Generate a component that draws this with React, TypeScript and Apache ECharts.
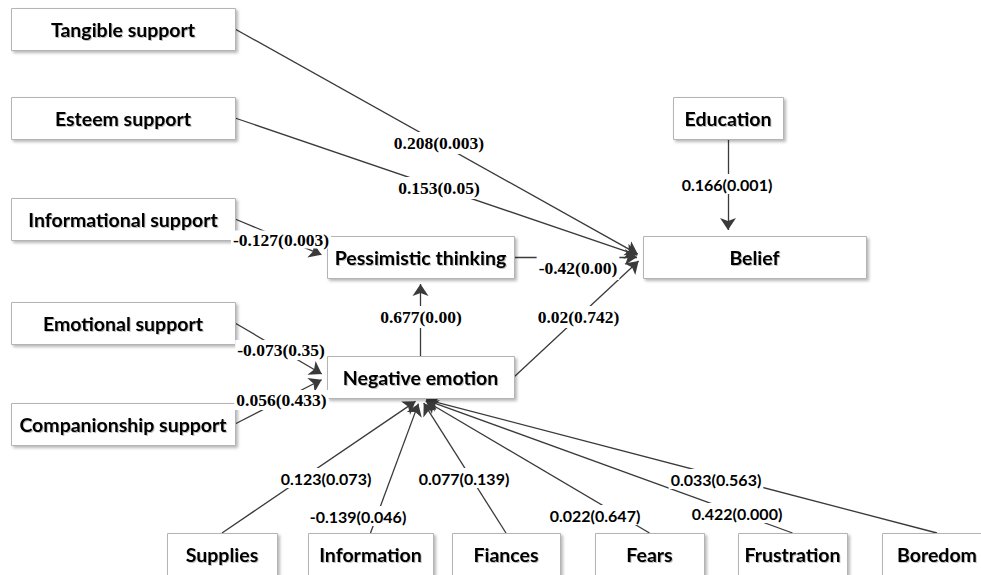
import React, { useEffect, useRef } from 'react';
import * as echarts from 'echarts';

// ---------- data ----------
const nodeNames = [
  'Tangible support', 'Esteem support', 'Informational support', 'Emotional support',
  'Companionship support', 'Pessimistic thinking', 'Negative emotion', 'Belief', 'Education',
  'Supplies', 'Information', 'Fiances', 'Fears', 'Frustration', 'Boredom',
];
const edgeFrom = [0, 1, 2, 3, 4, 5, 6, 6, 8, 9, 10, 11, 12, 13, 14];
const edgeTo = [7, 7, 5, 6, 6, 7, 5, 7, 7, 6, 6, 6, 6, 6, 6];
const pathCoef = ['0.208', '0.153', '-0.127', '-0.073', '0.056', '-0.42', '0.677', '0.02', '0.166',
  '0.123', '-0.139', '0.077', '0.022', '0.422', '0.033'];
const pathP = ['0.003', '0.05', '0.003', '0.35', '0.433', '0.00', '0.00', '0.742', '0.001',
  '0.073', '0.046', '0.139', '0.647', '0.000', '0.563'];

// ---------- layout (diagram space, px) ----------
const nodeCx = [123, 123, 123, 123, 123, 420.5, 420.5, 754.5, 728, 222, 370.5, 506, 649.5, 792.5, 937];
const nodeTop = [8, 97, 198, 302, 403, 236, 356, 236, 97, 533, 533, 533, 533, 533, 533];
const nodeW = [224, 224, 224, 224, 224, 187, 187, 223, 110, 110, 125, 108, 109, 109, 110];
const nodeH = [42, 42, 42, 42, 42, 42, 42, 42, 42, 50, 50, 50, 50, 50, 50];
const edgeFromSide = ['r', 'r', 'r', 'r', 'r', 'r', 't', 'r', 'b', 't', 't', 't', 't', 't', 't'];
const edgeToSide = ['l', 'l', 'l', 'l', 'l', 'l', 'b', 'l', 't', 'b', 'b', 'b', 'b', 'b', 'b'];
const labelX = [439, 439, 281, 281, 281.5, 578, 421, 578.5, 727, 326, 358, 464, 595, 737, 716];
const labelY = [143, 188, 239.5, 350, 400, 268, 317, 317, 184, 478, 516, 478, 515, 513, 479];
const labelPadV = [2, 2, 0, 1, 1, 3, 2, 2, 2, 2, 2, 2, 2, 2, 2];
const labelSerif = [1, 1, 1, 1, 1, 1, 1, 1, 0, 0, 0, 0, 0, 0, 0];

const W = 981;
const H = 575;
const ARROW = 12;

function anchor(i: number, side: string, alignX?: number): [number, number] {
  const cx = nodeCx[i];
  const top = nodeTop[i];
  const h = i >= 9 ? 42 : nodeH[i];
  const cy = top + h / 2;
  const w = nodeW[i];
  if (side === 'r') return [cx + w / 2, cy];
  if (side === 'l') return [cx - w / 2, cy];
  if (side === 't') return [alignX ?? cx, top];
  return [alignX ?? cx, top + h];
}

export default function App() {
  const ref = useRef<HTMLDivElement>(null);
  useEffect(() => {
    if (!ref.current) return;
    const chart = echarts.init(ref.current, undefined, { renderer: 'svg' });

    const lineData = edgeFrom.map((f, k) => {
      const t = edgeTo[k];
      const p1 = anchor(f, edgeFromSide[k]);
      const vertical = edgeFromSide[k] === 'b' || (edgeFromSide[k] === 't' && f === 6 && t === 5);
      const p2 = anchor(t, edgeToSide[k], vertical ? p1[0] : undefined);
      const dx = p2[0] - p1[0];
      const dy = p2[1] - p1[1];
      const len = Math.sqrt(dx * dx + dy * dy);
      const end: [number, number] = [p2[0] - (dx / len) * ARROW / 2, p2[1] - (dy / len) * ARROW / 2];
      return { coords: [p1, end] };
    });

    const option: any = {
      animation: false,
      grid: { left: 0, right: 0, top: 0, bottom: 0 },
      xAxis: { type: 'value', min: 0, max: W, show: false },
      yAxis: { type: 'value', min: 0, max: H, inverse: true, show: false },
      series: [
        {
          type: 'custom',
          coordinateSystem: 'cartesian2d',
          clip: false,
          silent: true,
          z: 2,
          data: nodeNames.map((_, i) => [nodeCx[i], nodeTop[i]]),
          renderItem: (params: any, api: any) => {
            const i = params.dataIndex;
            const p0 = api.coord([nodeCx[i] - nodeW[i] / 2, nodeTop[i]]);
            const p1 = api.coord([nodeCx[i] + nodeW[i] / 2, nodeTop[i] + nodeH[i]]);
            const textY = api.coord([0, nodeTop[i] + 21])[1];
            return {
              type: 'group',
              children: [
                {
                  type: 'rect',
                  shape: { x: Math.round(p0[0]) + 0.5, y: Math.round(p0[1]) + 0.5, width: Math.round(p1[0] - p0[0]), height: Math.round(p1[1] - p0[1]) },
                  style: {
                    fill: '#ffffff', stroke: '#b4b4b4', lineWidth: 1,
                    shadowColor: 'rgba(0,0,0,0.28)', shadowBlur: 3, shadowOffsetX: 2, shadowOffsetY: 2,
                  },
                },
                {
                  type: 'text',
                  style: {
                    text: nodeNames[i], x: (p0[0] + p1[0]) / 2, y: textY,
                    align: 'center', verticalAlign: 'middle',
                    font: 'bold 19.5px Lato', fill: '#000000',
                    textShadowColor: 'rgba(0,0,0,0.25)', textShadowBlur: 1.5, textShadowOffsetX: 1, textShadowOffsetY: 1,
                  },
                },
              ],
            };
          },
        },
        {
          type: 'lines',
          coordinateSystem: 'cartesian2d',
          silent: true,
          z: 1,
          symbol: ['none', 'arrow'],
          symbolSize: ARROW,
          lineStyle: { color: '#3a3a3a', width: 1.3, opacity: 1, curveness: 0 },
          data: lineData,
        },
        {
          type: 'custom',
          coordinateSystem: 'cartesian2d',
          clip: false,
          silent: true,
          z: 3,
          data: pathCoef.map((_, k) => [labelX[k], labelY[k]]),
          renderItem: (params: any, api: any) => {
            const k = params.dataIndex;
            const p = api.coord([labelX[k], labelY[k]]);
            return {
              type: 'text',
              style: {
                text: `${pathCoef[k]}(${pathP[k]})`,
                x: p[0], y: p[1], align: 'center', verticalAlign: 'middle',
                font: labelSerif[k] ? 'bold 17.5px "Liberation Serif"' : 'bold 16px Lato',
                fill: '#000000', backgroundColor: '#ffffff', padding: [labelPadV[k], 2],
              },
            };
          },
        },
      ],
    };
    chart.setOption(option);
    return () => chart.dispose();
  }, []);
  return <div ref={ref} style={{ position: 'fixed', left: 0, top: 0, width: W, height: H, background: '#fff' }} />;
}
